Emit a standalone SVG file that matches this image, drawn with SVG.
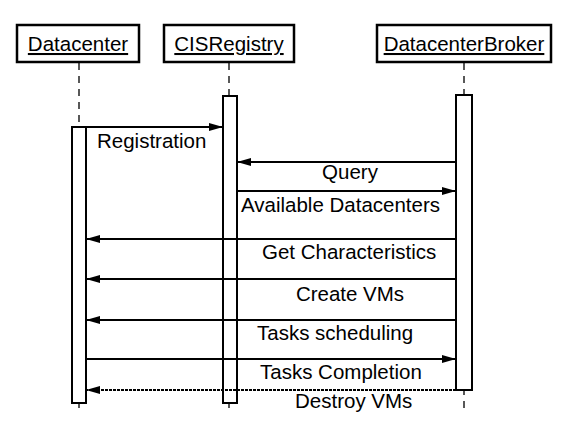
<svg xmlns="http://www.w3.org/2000/svg" width="570" height="424" viewBox="0 0 570 424">
<defs>
<style>
.hdr{fill:#fff;stroke:#000;stroke-width:2.5}
.act{fill:#fff;stroke:#000;stroke-width:2}
.life{stroke:#222;stroke-width:1.5;stroke-dasharray:7 6;fill:none}
.msg{stroke:#000;stroke-width:2;fill:none}
.ret{stroke:#000;stroke-width:2;fill:none;stroke-dasharray:3 1}
text{font-family:"Liberation Sans",Arial,sans-serif;font-size:20.5px;fill:#000}
.ul{text-decoration:underline}
</style>
<marker id="ah" viewBox="0 0 14 8" refX="14" refY="4" markerWidth="14" markerHeight="8" markerUnits="userSpaceOnUse" orient="auto">
<path d="M0,0 L14,4 L0,8 Z" fill="#000"/>
</marker>
</defs>
<rect width="570" height="424" fill="#fff"/>
<g id="datacenter">
<line class="life" x1="79" y1="63" x2="79" y2="414"/>
<rect class="hdr" x="17" y="25" width="122" height="37"/>
<text class="ul" x="78" y="51" text-anchor="middle">Datacenter</text>
<rect class="act" x="72" y="127" width="14" height="276"/>
</g>
<g id="cisregistry">
<line class="life" x1="229" y1="63" x2="229" y2="414"/>
<rect class="hdr" x="164" y="25" width="130" height="37"/>
<text class="ul" x="229" y="51" text-anchor="middle">CISRegistry</text>
<rect class="act" x="223" y="96" width="14" height="307"/>
</g>
<g id="datacenterbroker">
<line class="life" x1="464" y1="63" x2="464" y2="412"/>
<rect class="hdr" x="377" y="25" width="174" height="37"/>
<text class="ul" x="464" y="51" text-anchor="middle">DatacenterBroker</text>
<rect class="act" x="456" y="95" width="16" height="295"/>
</g>
<g id="connectors">
<line class="msg" x1="86" y1="127" x2="223" y2="127" marker-end="url(#ah)"/>
<text x="97" y="148">Registration</text>
<line class="msg" x1="456" y1="162" x2="237" y2="162" marker-end="url(#ah)"/>
<text x="350" y="179" text-anchor="middle">Query</text>
<line class="msg" x1="237" y1="191" x2="456" y2="191" marker-end="url(#ah)"/>
<text x="241" y="212">Available Datacenters</text>
<line class="msg" x1="456" y1="239" x2="86" y2="239" marker-end="url(#ah)"/>
<text x="262" y="259">Get Characteristics</text>
<line class="msg" x1="456" y1="279" x2="86" y2="279" marker-end="url(#ah)"/>
<text x="350" y="301" text-anchor="middle">Create VMs</text>
<line class="msg" x1="456" y1="320" x2="86" y2="320" marker-end="url(#ah)"/>
<text x="257" y="340">Tasks scheduling</text>
<line class="msg" x1="86" y1="359" x2="456" y2="359" marker-end="url(#ah)"/>
<text x="260" y="379">Tasks Completion</text>
<line class="ret" x1="456" y1="390" x2="86" y2="390" marker-end="url(#ah)"/>
<text x="295" y="408">Destroy VMs</text>
</g>
</svg>
